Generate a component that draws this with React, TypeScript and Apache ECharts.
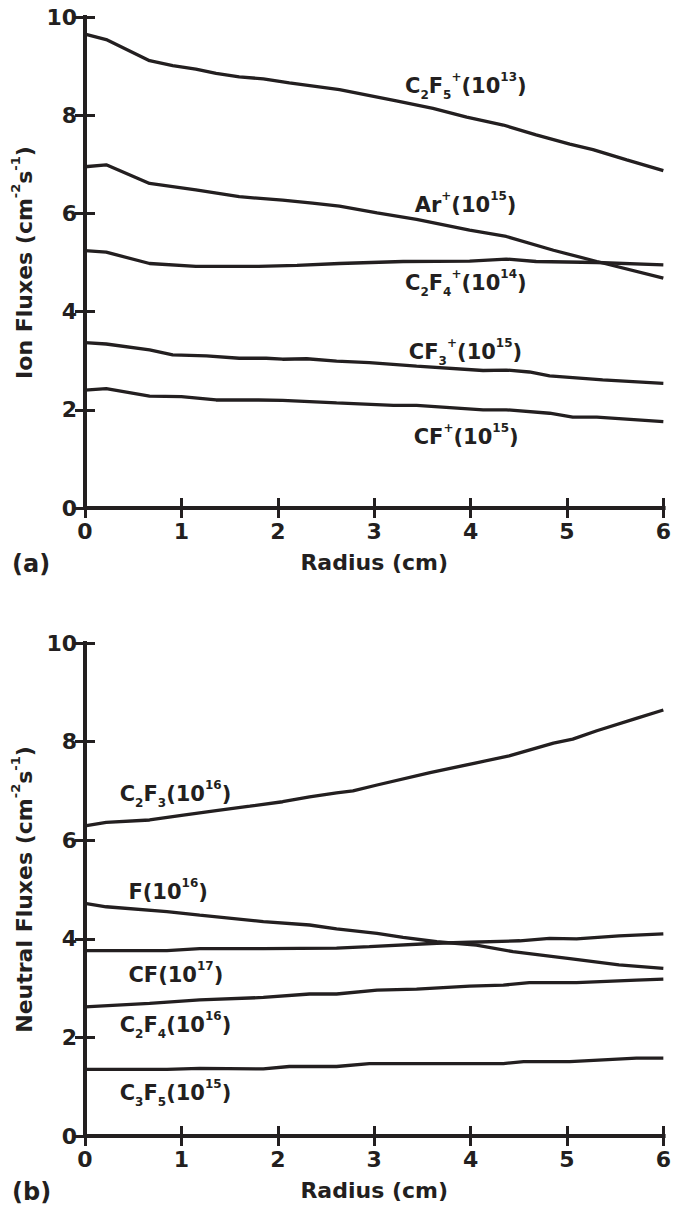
import React, { useEffect, useRef } from "react";
import * as echarts from "echarts";

const INK = "#231f20";
const FONT = "DejaVu Sans";

// ---------- Panel (a): ion fluxes ----------
const c2f5pR = [0, 0.22, 0.67, 0.91, 1.15, 1.36, 1.6, 1.85, 2.12, 2.64, 3.23, 3.61, 3.96, 4.34, 4.68, 5.03, 5.27, 5.62, 6.0];
const c2f5pV = [9.65, 9.54, 9.11, 9.01, 8.94, 8.85, 8.78, 8.74, 8.66, 8.52, 8.29, 8.14, 7.96, 7.8, 7.6, 7.41, 7.3, 7.09, 6.87];

const arpR = [0, 0.22, 0.67, 1.15, 1.6, 2.05, 2.36, 2.64, 3.03, 3.44, 3.99, 4.37, 4.86, 5.31, 6.0];
const arpV = [6.95, 6.99, 6.61, 6.48, 6.34, 6.27, 6.21, 6.15, 6.01, 5.88, 5.66, 5.53, 5.25, 5.02, 4.68];

const c2f4pR = [0, 0.22, 0.67, 1.15, 1.8, 2.2, 2.64, 3.3, 3.99, 4.37, 4.68, 5.31, 6.0];
const c2f4pV = [5.24, 5.21, 4.98, 4.92, 4.92, 4.94, 4.98, 5.02, 5.03, 5.07, 5.02, 5.0, 4.95];

const cf3pR = [0, 0.22, 0.67, 0.91, 1.26, 1.6, 1.88, 2.05, 2.3, 2.61, 2.95, 3.44, 4.13, 4.37, 4.61, 4.82, 5.37, 6.0];
const cf3pV = [3.37, 3.34, 3.22, 3.12, 3.1, 3.05, 3.05, 3.03, 3.04, 2.99, 2.96, 2.89, 2.8, 2.81, 2.77, 2.69, 2.61, 2.54];

const cfpR = [0, 0.22, 0.67, 1.0, 1.36, 1.8, 2.05, 2.61, 3.2, 3.44, 4.13, 4.37, 4.82, 5.06, 5.31, 6.0];
const cfpV = [2.4, 2.43, 2.28, 2.27, 2.2, 2.2, 2.19, 2.14, 2.09, 2.09, 2.0, 2.0, 1.93, 1.85, 1.85, 1.76];

const ionLabels = [
  "{b|C}{sub|2}{b|F}{sub|5}{sup|+}{b|(10}{sup|13}{b|)}",
  "{b|Ar}{sup|+}{b|(10}{sup|15}{b|)}",
  "{b|C}{sub|2}{b|F}{sub|4}{sup|+}{b|(10}{sup|14}{b|)}",
  "{b|CF}{sub|3}{sup|+}{b|(10}{sup|15}{b|)}",
  "{b|CF}{sup|+}{b|(10}{sup|15}{b|)}",
];
const ionLabelR = [3.32, 3.42, 3.32, 3.36, 3.41];
const ionLabelV = [8.6, 6.17, 4.58, 3.18, 1.45];

// ---------- Panel (b): neutral fluxes ----------
const c2f3R = [0, 0.22, 0.67, 1.02, 1.36, 1.71, 2.05, 2.33, 2.61, 2.78, 3.03, 3.58, 4.06, 4.4, 4.86, 5.06, 5.31, 5.72, 6.0];
const c2f3V = [6.29, 6.36, 6.41, 6.51, 6.6, 6.69, 6.78, 6.88, 6.96, 7.0, 7.12, 7.37, 7.57, 7.71, 7.97, 8.05, 8.22, 8.47, 8.64];

const fR = [0, 0.22, 0.85, 1.19, 1.85, 2.33, 2.61, 3.03, 3.3, 3.65, 4.06, 4.44, 4.86, 5.03, 5.54, 6.0];
const fV = [4.72, 4.65, 4.55, 4.48, 4.35, 4.28, 4.2, 4.11, 4.03, 3.94, 3.87, 3.74, 3.64, 3.6, 3.47, 3.4];

const cfR = [0, 0.85, 1.19, 1.85, 2.61, 2.95, 3.65, 3.99, 4.51, 4.82, 5.1, 5.54, 6.0];
const cfV = [3.76, 3.76, 3.8, 3.8, 3.81, 3.84, 3.91, 3.93, 3.96, 4.01, 4.0, 4.06, 4.1];

const c2f4R = [0, 0.67, 1.19, 1.85, 2.33, 2.61, 3.03, 3.44, 3.99, 4.34, 4.61, 5.1, 5.72, 6.0];
const c2f4V = [2.62, 2.69, 2.76, 2.81, 2.88, 2.88, 2.96, 2.98, 3.04, 3.06, 3.11, 3.11, 3.16, 3.18];

const c3f5R = [0, 0.85, 1.19, 1.85, 2.12, 2.61, 2.95, 3.65, 4.34, 4.55, 5.03, 5.72, 6.0];
const c3f5V = [1.35, 1.35, 1.37, 1.36, 1.41, 1.41, 1.47, 1.47, 1.47, 1.51, 1.51, 1.58, 1.58];

const neuLabels = [
  "{b|C}{sub|2}{b|F}{sub|3}{b|(10}{sup|16}{b|)}",
  "{b|F(10}{sup|16}{b|)}",
  "{b|CF(10}{sup|17}{b|)}",
  "{b|C}{sub|2}{b|F}{sub|4}{b|(10}{sup|16}{b|)}",
  "{b|C}{sub|3}{b|F}{sub|5}{b|(10}{sup|15}{b|)}",
];
const neuLabelR = [0.36, 0.45, 0.45, 0.36, 0.36];
const neuLabelV = [6.94, 4.95, 3.27, 2.25, 0.87];

const xTicks = { min: 0, max: 6, interval: 1 };
const yTicks = { min: 0, max: 10, interval: 2 };
const xName = "Radius (cm)";
const yNames = [
  "{n|Ion Fluxes (cm}{sup|-2}{n|s}{sup|-1}{n|)}",
  "{n|Neutral Fluxes (cm}{sup|-2}{n|s}{sup|-1}{n|)}",
];
const panelTags = ["(a)", "(b)"];

const zip = (r: number[], v: number[]) => r.map((x, i) => [x, v[i]]);

const labelRich = {
  b: { fontSize: 21, fontWeight: "bold", fontFamily: FONT, color: INK, lineHeight: 30 },
  sub: { fontSize: 12, fontWeight: "bold", fontFamily: FONT, color: INK, lineHeight: 20, verticalAlign: "bottom" },
  sup: { fontSize: 12, fontWeight: "bold", fontFamily: FONT, color: INK, lineHeight: 12, verticalAlign: "top" },
};

const nameRich = {
  n: { fontSize: 22, fontWeight: "bold", fontFamily: FONT, color: INK, lineHeight: 30 },
  sup: { fontSize: 13, fontWeight: "bold", fontFamily: FONT, color: INK, lineHeight: 13, verticalAlign: "top" },
};

const axisLine = { show: true, lineStyle: { color: INK, width: 4, cap: "square" } };
const axisTick = { show: true, inside: true, length: 10, lineStyle: { color: INK, width: 3 } };
const tickLabel = { fontSize: 22, fontWeight: "bold", fontFamily: FONT, color: INK };

function buildOption() {
  const grids = [
    { left: 85, right: 10, top: 17, height: 491 },
    { left: 85, right: 10, top: 643, height: 493 },
  ];
  const xAxis: any[] = [];
  const yAxis: any[] = [];
  grids.forEach((_, g) => {
    xAxis.push({
      type: "value", gridIndex: g, position: "bottom", ...xTicks,
      axisLine, axisTick, splitLine: { show: false },
      axisLabel: { ...tickLabel, margin: 12 },
      name: xName, nameLocation: "middle", nameGap: 43,
      nameTextStyle: { fontSize: 22, fontWeight: "bold", fontFamily: FONT, color: INK },
    });
    xAxis.push({
      type: "value", gridIndex: g, position: "top", ...xTicks,
      axisLine, axisTick, splitLine: { show: false }, axisLabel: { show: false },
    });
    yAxis.push({
      type: "value", gridIndex: g, position: "left", ...yTicks,
      axisLine, axisTick, splitLine: { show: false },
      axisLabel: { ...tickLabel, margin: 8 },
      name: yNames[g], nameLocation: "middle", nameGap: 35, nameRotate: 90,
      nameTextStyle: { color: INK, rich: nameRich },
    });
    yAxis.push({
      type: "value", gridIndex: g, position: "right", ...yTicks,
      axisLine, axisTick, splitLine: { show: false }, axisLabel: { show: false },
    });
  });

  const line = (g: number, r: number[], v: number[]) => ({
    type: "line", xAxisIndex: g * 2, yAxisIndex: g * 2, data: zip(r, v),
    showSymbol: false, symbol: "none", silent: true,
    lineStyle: { color: INK, width: 3.3 },
  });
  const labels = (g: number, texts: string[], r: number[], v: number[]) => ({
    type: "scatter", xAxisIndex: g * 2, yAxisIndex: g * 2, symbolSize: 0, silent: true,
    data: zip(r, v),
    itemStyle: { color: INK, opacity: 1 },
    label: {
      show: true, position: "right", distance: 0, color: INK, opacity: 1,
      textBorderWidth: 0,
      formatter: (p: any) => texts[p.dataIndex], rich: labelRich,
    },
  });

  const series = [
    line(0, c2f5pR, c2f5pV), line(0, arpR, arpV), line(0, c2f4pR, c2f4pV),
    line(0, cf3pR, cf3pV), line(0, cfpR, cfpV),
    labels(0, ionLabels, ionLabelR, ionLabelV),
    line(1, c2f3R, c2f3V), line(1, fR, fV), line(1, cfR, cfV),
    line(1, c2f4R, c2f4V), line(1, c3f5R, c3f5V),
    labels(1, neuLabels, neuLabelR, neuLabelV),
  ];

  const graphic = [
    { type: "text", left: 12, top: 552, style: { text: panelTags[0], fontSize: 24, fontWeight: "bold", fontFamily: FONT, fill: INK } },
    { type: "text", left: 12, top: 1180, style: { text: panelTags[1], fontSize: 24, fontWeight: "bold", fontFamily: FONT, fill: INK } },
  ];

  return { animation: false, backgroundColor: "#ffffff", grid: grids, xAxis, yAxis, series, graphic };
}

export default function App() {
  const ref = useRef<HTMLDivElement>(null);
  useEffect(() => {
    if (!ref.current) return;
    const chart = echarts.init(ref.current, undefined, { renderer: "svg" });
    chart.setOption(buildOption() as any);
    return () => chart.dispose();
  }, []);
  return (
    <div
      ref={ref}
      style={{ position: "fixed", left: 0, top: 0, width: 674, height: 1211, background: "#fff" }}
    />
  );
}
